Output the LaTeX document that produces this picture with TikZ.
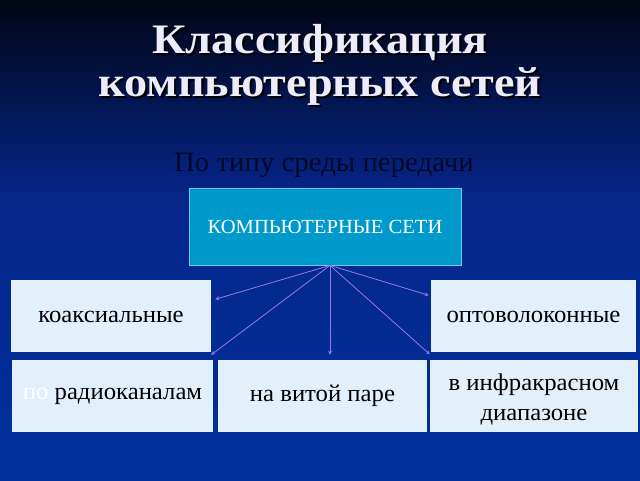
\documentclass[tikz,border=0pt]{standalone}
\usepackage{fontspec}
\setmainfont{Liberation Serif}[FakeStretch=1.03]
\newfontfamily\titlefont{Liberation Serif}[FakeStretch=1.1]
\usetikzlibrary{positioning,calc}
\definecolor{netfill}{RGB}{0,153,204}
\definecolor{netline}{RGB}{110,200,235}
\definecolor{kindfill}{RGB}{226,240,252}
\definecolor{arrowlilac}{RGB}{150,120,230}
\definecolor{bgtop}{RGB}{1,5,20}
\definecolor{bgmid}{RGB}{6,38,140}
\definecolor{bgbot}{RGB}{0,48,155}
\definecolor{titlewhite}{RGB}{236,236,250}
\definecolor{subdark}{RGB}{2,8,40}
\newcommand\shadowed[1]{\rlap{\kern2pt\raisebox{-2pt}{\color{black}#1}}#1}

\begin{document}
\begin{tikzpicture}[x=1pt,y=-1pt,
		kind/.style={minimum width=#1,minimum height=72pt,fill=kindfill,inner sep=0pt,font=\fontsize{24}{30}\selectfont,align=center},
		link/.style={-stealth,arrowlilac,line width=0.8pt}]
		% background
		\shade[top color=bgtop,bottom color=bgmid] (0,0) rectangle (640,201);
		\shade[top color=bgmid,bottom color=bgbot] (0,200) rectangle (640,480);
		\useasboundingbox (0,0) rectangle (640,480);
		
		\node[font=\titlefont\fontsize{42}{43}\selectfont\bfseries,align=center,titlewhite] (title) at (320,66) {\shadowed{Классификация}\\\shadowed{компьютерных сетей}};
		\node[font=\fontsize{28}{32}\selectfont,subdark,anchor=base] (medium) at (324,171) {По типу среды передачи};
		
		\node[minimum width=272pt,minimum height=77pt,draw=netline,fill=netfill,line width=0.8pt,text=white,font=\fontsize{20}{24}\selectfont] (net) at (325,226.5) {КОМПЬЮТЕРНЫЕ СЕТИ};
		\coordinate (hub) at ($(net.south)+(5,0)$);
		
		\node[kind=200pt,text height=20pt,text depth=6pt] (coax) at (111,315.5) {коаксиальные};
		\node[kind=205pt,text height=20pt,text depth=6pt] (opto) at (533.5,315.5) {оптоволоконные};
		\node[kind=201pt] (radio) at (112.5,396) {{\color{white}по} радиоканалам};
		\node[kind=209pt] (twist) at (322.5,396) {на витой паре};
		\node[kind=208pt,text height=56pt,text depth=6pt] (infra) at (534,395.5) {в инфракрасном\\диапазоне};
		
		\draw[link] (hub)--([shift={(4,20)}]coax.north east);
		\draw[link] (hub)--([shift={(-2,-5)}]radio.north east);
		\draw[link] (hub)--($(hub |- twist.north)+(0,-5)$);
		\draw[link] (hub)--([shift={(0,-5)}]infra.north west);
		\draw[link] (hub)--([shift={(-2,16)}]opto.north west);
	\end{tikzpicture}
\end{document}
